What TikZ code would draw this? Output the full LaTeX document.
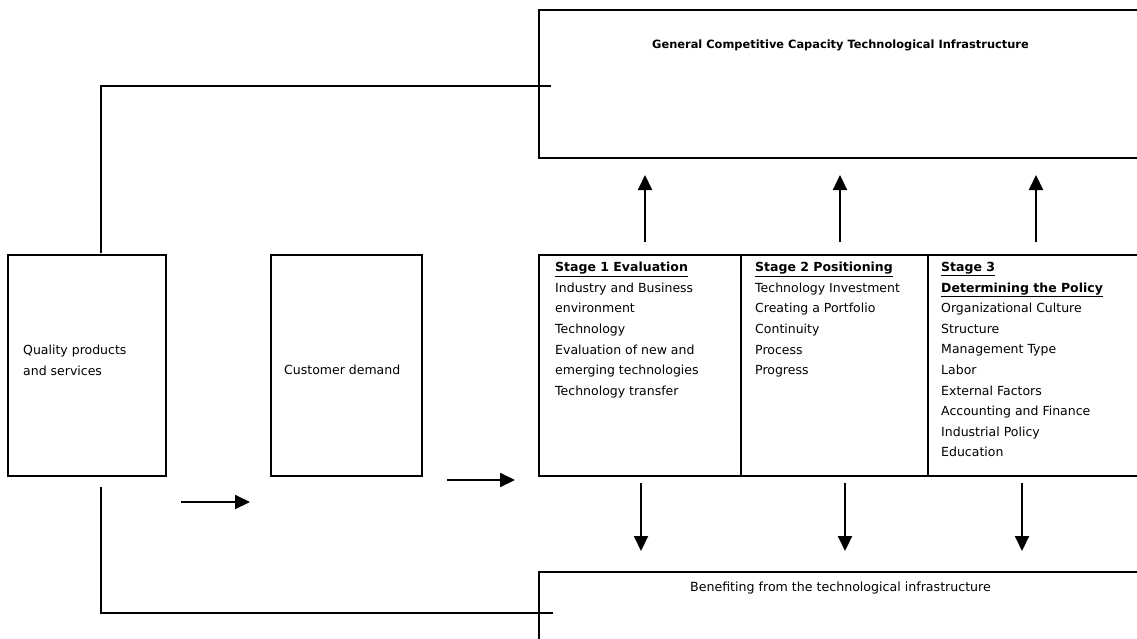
\documentclass[tikz,border=0pt]{standalone}
\usepackage{fontspec}
\setmainfont{DejaVu Sans}
\usepackage{tikz}
\usetikzlibrary{arrows.meta,positioning}
\newcommand{\stagehead}[1]{\underline{\textbf{#1}}}

\begin{document}
\begin{tikzpicture}[x=1pt,y=-1pt,
    box/.style={draw, line width=1.8pt, inner sep=0pt, outer sep=0pt},
    txt/.style={font=\fontsize{12.5}{20.6}\selectfont, align=left, inner sep=0pt},
    arr/.style={line width=2pt, -{Triangle[length=15pt,width=14pt]}},
    link/.style={line width=1.4pt}]
    \useasboundingbox (0,0) rectangle (1137,638);
    \clip (0,0) rectangle (1137,638);

    % boxes
    \node[box, anchor=north west, minimum width=611pt, minimum height=148pt] (capacity) at (539,10) {};
    \node[font=\fontsize{11.4}{13}\selectfont\bfseries] (title) at ([xshift=-4pt,yshift=-35pt]capacity.north) {General Competitive Capacity Technological Infrastructure};

    \node[box, anchor=north west, minimum width=158pt, minimum height=221pt] (quality) at (8,255) {};
    \node[txt, anchor=west] (qualitytxt) at ([xshift=15pt,yshift=5pt]quality.west) {Quality products\\and services};

    \node[box, anchor=north west, minimum width=151pt, minimum height=221pt] (customer) at (271,255) {};
    \node[txt, anchor=west] (customertxt) at ([xshift=13pt,yshift=-4pt]customer.west) {Customer demand};

    \node[box, anchor=north west, minimum width=202pt, minimum height=221pt] (stageA) at (539,255) {};
    \node[box, anchor=north west, minimum width=187pt, minimum height=221pt] (stageB) at (stageA.north east) {};
    \node[box, anchor=north west, minimum width=222pt, minimum height=221pt] (stageC) at (stageB.north east) {};

    \node[txt, anchor=north west] (evaltxt) at ([xshift=16pt,yshift=-7pt]stageA.north west) {\stagehead{Stage 1 Evaluation}\\Industry and Business\\environment\\Technology\\Evaluation of new and\\emerging technologies\\Technology transfer};
    \node[txt, anchor=north west] (postxt) at ([xshift=14pt,yshift=-7pt]stageB.north west) {\stagehead{Stage 2 Positioning}\\Technology Investment\\Creating a Portfolio\\Continuity\\Process\\Progress};
    \node[txt, anchor=north west] (policytxt) at ([xshift=13pt,yshift=-7pt]stageC.north west) {\stagehead{Stage 3}\\\stagehead{Determining the Policy}\\Organizational Culture\\Structure\\Management Type\\Labor\\External Factors\\Accounting and Finance\\Industrial Policy\\Education};

    \node[box, anchor=north west, minimum width=611pt, minimum height=82pt] (benefit) at (539,572) {};
    \node[font=\fontsize{12.6}{14}\selectfont] (benefittxt) at ([xshift=-4pt,yshift=-16pt]benefit.north) {Benefiting from the technological infrastructure};

    % arrows
    \draw[arr, shorten <=13pt, shorten >=17pt] ([xshift=5pt]stageA.north) -- ([xshift=5pt]stageA.north |- capacity.south);
    \draw[arr, shorten <=13pt, shorten >=17pt] ([xshift=5.5pt]stageB.north) -- ([xshift=5.5pt]stageB.north |- capacity.south);
    \draw[arr, shorten <=13pt, shorten >=17pt] ([xshift=-3pt]stageC.north) -- ([xshift=-3pt]stageC.north |- capacity.south);

    \draw[arr, shorten <=7pt, shorten >=21pt] ([xshift=1pt]stageA.south) -- ([xshift=1pt]stageA.south |- benefit.north);
    \draw[arr, shorten <=7pt, shorten >=21pt] ([xshift=10.5pt]stageB.south) -- ([xshift=10.5pt]stageB.south |- benefit.north);
    \draw[arr, shorten <=7pt, shorten >=21pt] ([xshift=-17pt]stageC.south) -- ([xshift=-17pt]stageC.south |- benefit.north);

    \coordinate (demandin) at ([xshift=15pt,yshift=-26pt]quality.south east);
    \coordinate (demandout) at ([xshift=-21pt,yshift=-26pt]customer.south west);
    \draw[arr] (demandin) -- (demandout);
    \coordinate (stagein) at ([xshift=25pt,yshift=-4pt]customer.south east);
    \coordinate (stageout) at ([xshift=-24pt,yshift=-4pt]stageA.south west);
    \draw[arr] (stagein) -- (stageout);

    % feedback lines
    \draw[link] ([xshift=14pt,yshift=2pt]quality.north) |- ([xshift=12pt,yshift=-2pt]capacity.west);
    \draw[link] ([xshift=14pt,yshift=-11pt]quality.south) |- ([xshift=14pt]benefit.west);
\end{tikzpicture}
\end{document}
